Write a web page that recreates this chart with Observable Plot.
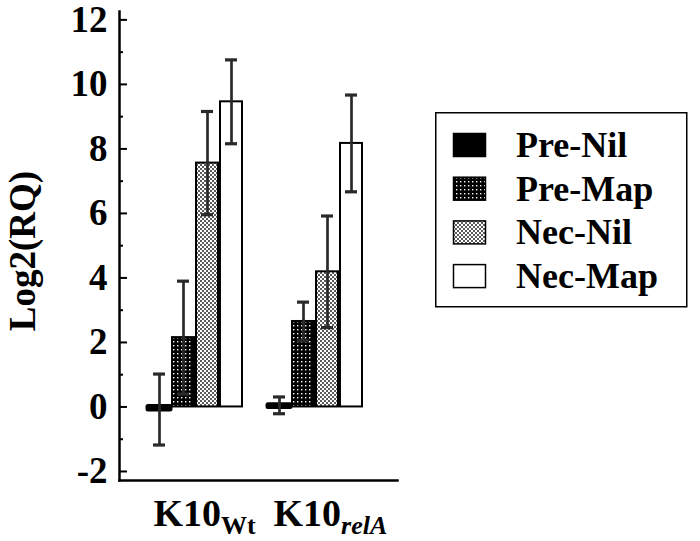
<!DOCTYPE html>
<html>
<head>
<meta charset="utf-8">
<script src="https://cdn.jsdelivr.net/npm/d3@7"></script>
<script src="https://cdn.jsdelivr.net/npm/@observablehq/plot@0.6"></script>
<style>
  html, body { margin: 0; padding: 0; background: #fff; }
  #wrap { position: relative; width: 700px; height: 541px; font-family: "Liberation Serif", "DejaVu Serif", serif; font-weight: bold; }
  #legend { position: absolute; left: 435px; top: 112px; }
</style>
</head>
<body>
<svg width="0" height="0" style="position:absolute">
  <defs>
    <pattern id="pat-premap" width="4" height="4" patternUnits="userSpaceOnUse">
      <rect width="4" height="4" fill="#000"/>
      <rect x="1" y="1" width="1.4" height="1.4" fill="#fff"/>
    </pattern>
    <pattern id="pat-necnil" width="4" height="4" patternUnits="userSpaceOnUse">
      <rect width="4" height="4" fill="#fff"/>
      <rect x="0" y="0" width="2" height="2" fill="#5a5a5a"/>
      <rect x="2" y="2" width="2" height="2" fill="#5a5a5a"/>
    </pattern>
  </defs>
</svg>
<div id="wrap"></div>
<script>
// ---- data ----
const groups = ["K10Wt", "K10relA"];
const groupSubs = ["Wt", "relA"];
const series = ["Pre-Nil", "Pre-Map", "Nec-Nil", "Nec-Map"];
const meansWt = [-0.08, 2.15, 7.56, 9.46];
const errWt = [1.1, 1.75, 1.6, 1.3];
const meansRelA = [0.05, 2.65, 4.19, 8.17];
const errRelA = [0.26, 0.6, 1.73, 1.5];
const majorTicks = [-2, 0, 2, 4, 6, 8, 10, 12];
const minorTicks = [-1, 1, 3, 5, 7, 9, 11];
const yLabel = "Log2(RQ)";
const seriesFills = ["#000", "url(#pat-premap)", "url(#pat-necnil)", "#fff"];

// ---- build table ----
const valueSets = [meansWt, meansRelA];
const errSets = [errWt, errRelA];
const data = [];
groups.forEach((g, gi) => {
  series.forEach((s, si) => {
    data.push({group: g, series: s, key: g + "|" + s, v: valueSets[gi][si], e: errSets[gi][si]});
  });
});
const slots = [...series.map(s => groups[0] + "|" + s), "gap", ...series.map(s => groups[1] + "|" + s)];
const labelData = groups.map((g, i) => ({group: g, key: g + "|" + series[0], sub: groupSubs[i]}));

const chart = Plot.plot({
  width: 700,
  height: 541,
  marginLeft: 119,
  marginRight: 303,
  marginTop: 11,
  marginBottom: 61,
  style: {fontFamily: "Liberation Serif, serif", fontWeight: "bold", color: "#000", background: "transparent", overflow: "visible"},
  x: {domain: slots, paddingInner: 0.1, paddingOuter: 1.34, align: 0.45, axis: null},
  y: {domain: [-2.28, 12.26], axis: null},
  color: {domain: series, range: seriesFills},
  marks: [
    Plot.barY(data.filter(d => d.series !== series[0]), {x: "key", y: "v", fill: "series", stroke: "#000", strokeWidth: 2}),
    Plot.barY(data.filter(d => d.series === series[0]), {x: "key", y: "v", fill: "series", stroke: "#000", strokeWidth: 5, strokeLinejoin: "round"}),
    Plot.ruleX(data, {x: "key", y1: d => d.v - d.e, y2: d => d.v + d.e, stroke: "#2a2a2a", strokeWidth: 2.7}),
    Plot.tickY(data, {x: "key", y: d => d.v - d.e, insetLeft: 5, insetRight: 5, stroke: "#2a2a2a", strokeWidth: 3.2}),
    Plot.tickY(data, {x: "key", y: d => d.v + d.e, insetLeft: 5, insetRight: 5, stroke: "#2a2a2a", strokeWidth: 3.2}),
    Plot.frame({anchor: "left", stroke: "#000", strokeWidth: 2.5}),
    Plot.frame({anchor: "bottom", stroke: "#000", strokeWidth: 2.5}),
    Plot.axisY({ticks: majorTicks, tickSize: -8, tickPadding: 20, tickFormat: d => `${d}`, fontSize: 37, strokeWidth: 2, label: null}),
    Plot.axisY({ticks: minorTicks, tickSize: -4, tickFormat: () => "", label: null, strokeWidth: 2}),
    Plot.text([yLabel], {text: d => d, frameAnchor: "left", textAnchor: "middle", rotate: -90, dx: -96, dy: 5, fontSize: 37, fill: "#000"}),
    Plot.text(labelData, {x: "key", text: d => "K10" + d.sub, frameAnchor: "bottom", dy: 45, dx: -6, lineAnchor: "bottom",
      textAnchor: "start", fontSize: 38, fill: "#000", className: "grouplabels"})
  ]
});

document.getElementById("wrap").appendChild(chart);

// subscript formatting for group labels
const labelNodes = chart.querySelectorAll(".grouplabels text");
labelNodes.forEach((t, i) => {
  const d = labelData[i];
  t.textContent = "";
  const main = document.createElementNS("http://www.w3.org/2000/svg", "tspan");
  main.textContent = "K10";
  const sub = document.createElementNS("http://www.w3.org/2000/svg", "tspan");
  sub.textContent = d.sub;
  sub.setAttribute("dy", "8");
  sub.setAttribute("font-size", "26");
  if (d.sub === "relA") sub.setAttribute("font-style", "italic");
  t.appendChild(main);
  t.appendChild(sub);
});

// legend
const ns = "http://www.w3.org/2000/svg";
const leg = document.createElementNS(ns, "svg");
leg.setAttribute("id", "legend");
leg.setAttribute("width", "253");
leg.setAttribute("height", "196");
const box = document.createElementNS(ns, "rect");
box.setAttribute("x", "0.75"); box.setAttribute("y", "0.75");
box.setAttribute("width", "251"); box.setAttribute("height", "194");
box.setAttribute("fill", "#fff"); box.setAttribute("stroke", "#000"); box.setAttribute("stroke-width", "1.5");
leg.appendChild(box);
series.forEach((s, i) => {
  const base = 45 + i * 43.7;
  const r = document.createElementNS(ns, "rect");
  r.setAttribute("x", "18.5"); r.setAttribute("y", base - 23.5);
  r.setAttribute("width", "32"); r.setAttribute("height", "23");
  r.setAttribute("fill", seriesFills[i]); r.setAttribute("stroke", "#000"); r.setAttribute("stroke-width", "1.5");
  leg.appendChild(r);
  const tx = document.createElementNS(ns, "text");
  tx.setAttribute("x", "81"); tx.setAttribute("y", base);
  tx.setAttribute("font-family", "Liberation Serif, serif");
  tx.setAttribute("font-weight", "bold");
  tx.setAttribute("font-size", "36");
  tx.textContent = s;
  leg.appendChild(tx);
});
document.getElementById("wrap").appendChild(leg);
</script>
</body>
</html>
